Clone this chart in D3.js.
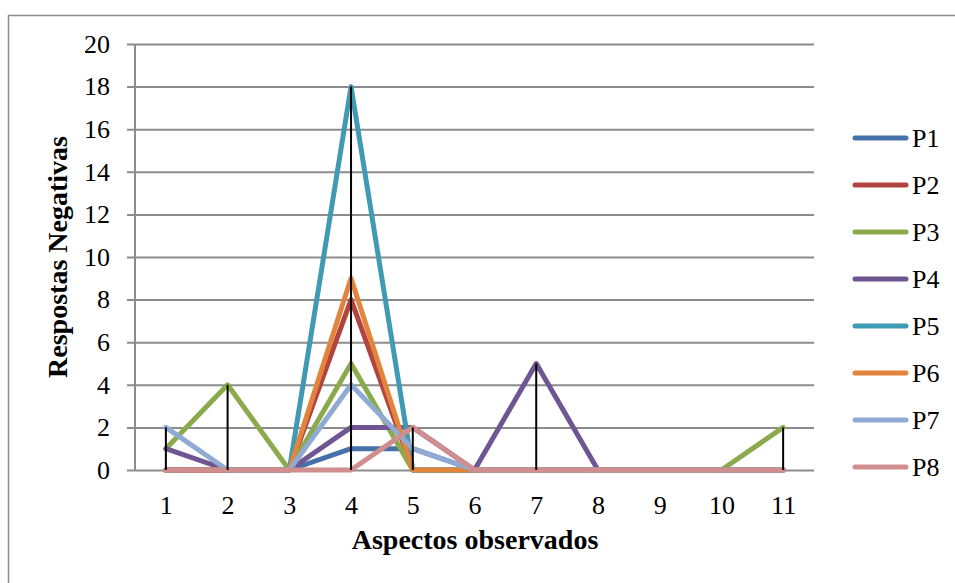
<!DOCTYPE html>
<html>
<head>
<meta charset="utf-8">
<script src="https://cdn.jsdelivr.net/npm/d3@7"></script>
<style>
    body { margin: 0; background: #fff; }
    text { font-family: "Liberation Serif", serif; fill: #000; }
</style>
</head>
<body>
<script>
const CATEGORIES = ['1', '2', '3', '4', '5', '6', '7', '8', '9', '10', '11'];
const SERIES_NAMES = ['P1', 'P2', 'P3', 'P4', 'P5', 'P6', 'P7', 'P8'];
const P1 = [0, 0, 0, 1, 1, 0, 0, 0, 0, 0, 0];
const P2 = [0, 0, 0, 8, 0, 0, 0, 0, 0, 0, 0];
const P3 = [1, 4, 0, 5, 0, 0, 0, 0, 0, 0, 2];
const P4 = [1, 0, 0, 2, 2, 0, 5, 0, 0, 0, 0];
const P5 = [0, 0, 0, 18, 0, 0, 0, 0, 0, 0, 0];
const P6 = [0, 0, 0, 9, 0, 0, 0, 0, 0, 0, 0];
const P7 = [2, 0, 0, 4, 1, 0, 0, 0, 0, 0, 0];
const P8 = [0, 0, 0, 0, 2, 0, 0, 0, 0, 0, 0];
const Y_TICKS = [0, 2, 4, 6, 8, 10, 12, 14, 16, 18, 20];
const COLORS = ['#4573a9', '#b3433f', '#8baa4b', '#6f5591',
                '#3f9ab3', '#e3843c', '#90aad3', '#d08e8e'];
const X_TITLE = 'Aspectos observados';
const Y_TITLE = 'Respostas Negativas';


function plot(svg)
{
    const values = [P1, P2, P3, P4, P5, P6, P7, P8];
    const series = SERIES_NAMES.map((name, i) => ({
        name: name,
        color: COLORS[i],
        points: CATEGORIES.map((c, j) => ({cat: c, v: values[i][j]}))
    }));

    // chart area border (runs off the page right and bottom)
    svg.append('rect')
        .attr('x', 8.5).attr('y', 15.5)
        .attr('width', 1000).attr('height', 700)
        .attr('fill', 'none')
        .attr('stroke', '#8c8c8c')
        .attr('stroke-width', 1.5);

    const scX = d3.scalePoint()
        .domain(CATEGORIES)
        .range([135, 814])
        .padding(0.5);
    const scY = d3.scaleLinear()
        .domain([0, 20])
        .range([470, 44]);

    // gridlines + y axis
    const yAxis = svg.append('g')
        .attr('transform', 'translate(135, 0)')
        .call(d3.axisLeft(scY)
            .tickValues(Y_TICKS)
            .tickSize(8)
            .tickPadding(17));
    yAxis.select('.domain').remove();
    yAxis.selectAll('.tick line')
        .attr('x2', 814 - 135)
        .attr('x1', -8)
        .attr('stroke', '#8c8c8c')
        .attr('stroke-width', 2);
    yAxis.selectAll('.tick text')
        .attr('font-size', 26)
        .attr('font-family', '"Liberation Serif", serif');
    svg.append('line')
        .attr('x1', 135).attr('x2', 135)
        .attr('y1', 44).attr('y2', 470)
        .attr('stroke', '#8c8c8c')
        .attr('stroke-width', 2);

    // x axis labels
    const xAxis = svg.append('g')
        .attr('transform', 'translate(0, 470)')
        .call(d3.axisBottom(scX).tickSize(0).tickPadding(26));
    xAxis.select('.domain').remove();
    xAxis.selectAll('.tick text')
        .attr('font-size', 26)
        .attr('font-family', '"Liberation Serif", serif');

    // series lines
    const lineMaker = d3.line()
        .x(d => scX(d.cat))
        .y(d => scY(d.v));
    svg.append('g')
        .selectAll('path')
        .data(series).enter().append('path')
        .attr('d', d => lineMaker(d.points))
        .attr('fill', 'none')
        .attr('stroke', d => d.color)
        .attr('stroke-width', 5)
        .attr('stroke-linejoin', 'round')
        .attr('stroke-linecap', 'round');

    // drop lines from highest value to the axis
    const maxima = CATEGORIES.map((c, j) => ({
        cat: c,
        v: d3.max(values, arr => arr[j])
    })).filter(d => d.v > 0);
    svg.append('g')
        .selectAll('line')
        .data(maxima).enter().append('line')
        .attr('x1', d => scX(d.cat))
        .attr('x2', d => scX(d.cat))
        .attr('y1', d => scY(d.v))
        .attr('y2', scY(0))
        .attr('stroke', '#000')
        .attr('stroke-width', 2);

    // axis titles
    svg.append('text')
        .attr('x', 475).attr('y', 549)
        .attr('text-anchor', 'middle')
        .attr('font-size', 28)
        .attr('font-weight', 'bold')
        .text(X_TITLE);
    svg.append('text')
        .attr('transform', 'translate(67, 257) rotate(-90)')
        .attr('text-anchor', 'middle')
        .attr('font-size', 28)
        .attr('font-weight', 'bold')
        .text(Y_TITLE);

    // legend
    const legend = svg.append('g')
        .selectAll('g')
        .data(series).enter().append('g')
        .attr('transform', (d, i) => `translate(853, ${138 + i * 47})`);
    legend.append('line')
        .attr('x1', 2).attr('x2', 53)
        .attr('stroke', d => d.color)
        .attr('stroke-width', 5)
        .attr('stroke-linecap', 'round');
    legend.append('text')
        .attr('x', 59)
        .attr('dy', '0.35em')
        .attr('font-size', 26)
        .text(d => d.name);
}

function main()
{
    const svg = d3.select('body')
        .append('svg')
        .attr('width', 955)
        .attr('height', 583);
    plot(svg);
}

main();
</script>
</body>
</html>
